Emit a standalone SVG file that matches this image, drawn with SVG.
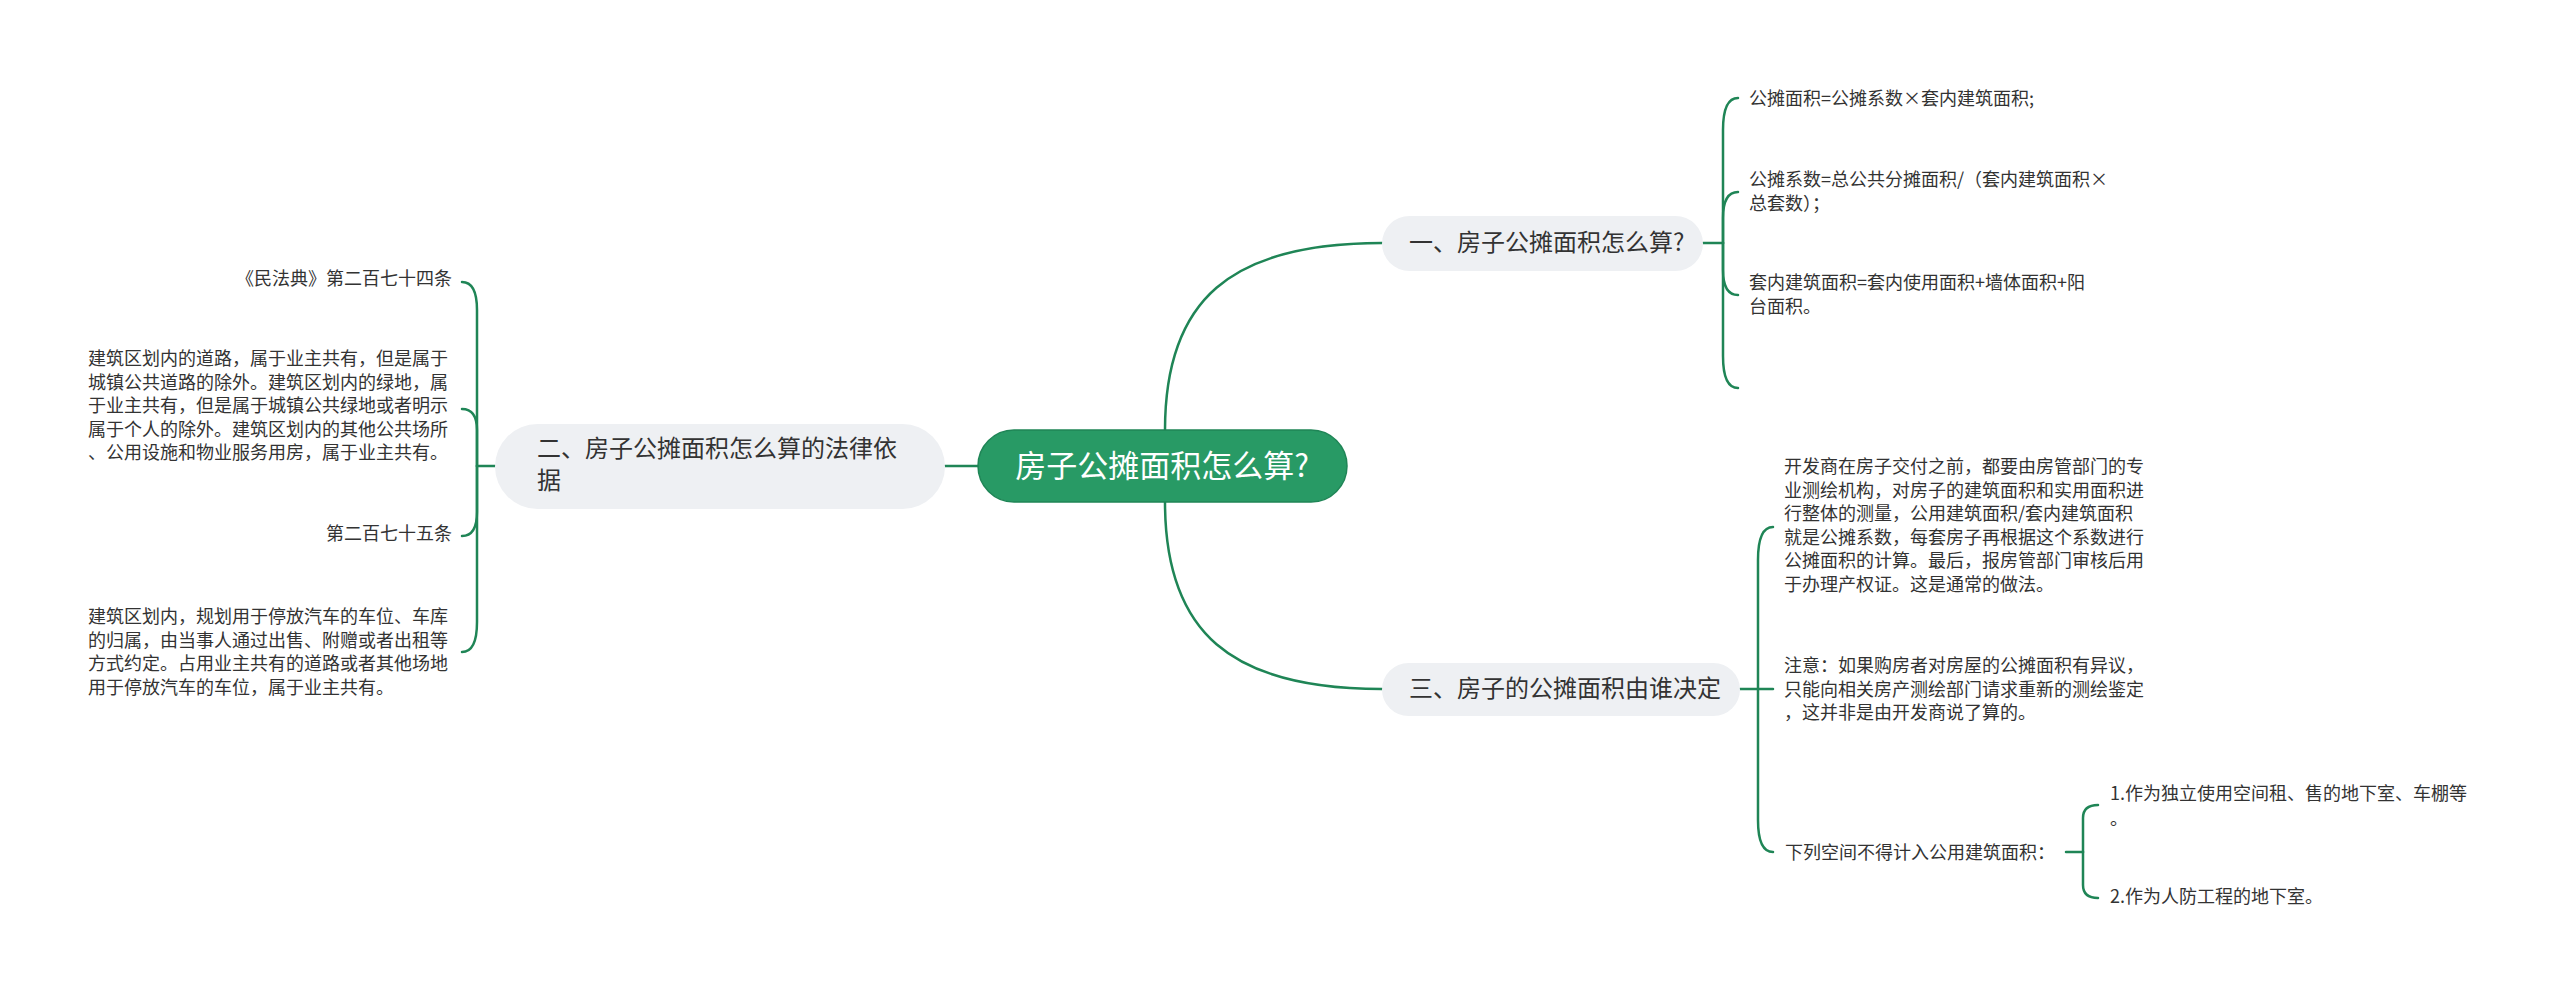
<svg xmlns="http://www.w3.org/2000/svg" width="2560" height="997" viewBox="0 0 2560 997">
<style>
.bg{fill:#ffffff}
.ln{fill:none;stroke:#1f8556;stroke-width:2.5;stroke-linecap:round}
.root{fill:#289a65;stroke:#1f8556;stroke-width:1.5}
.sub{fill:#eef0f3}
.t{font-family:"Noto Sans CJK SC","Noto Sans",sans-serif;fill:#333333}
.rt{font-family:"Noto Sans CJK SC","Noto Sans",sans-serif;fill:#ffffff;font-size:31px}
.st{font-size:24px}
.lf{font-size:18px}
</style>
<rect class="bg" x="0" y="0" width="2560" height="997"/>
<g id="connectors">
  <path class="ln" d="M1165,430 C1165,300 1230,243 1382,243"/>
  <path class="ln" d="M1165,502 C1165,632 1230,689 1382,689"/>
  <path class="ln" d="M978,466 H945"/>
  <!-- left brace -->
  <path class="ln" d="M495,466 H477"/>
  <path class="ln" d="M477,466 V310 Q477,282 462,282"/>
  <path class="ln" d="M477,466 V430 Q477,409 462,409"/>
  <path class="ln" d="M477,466 V512 Q477,536 462,536"/>
  <path class="ln" d="M477,466 V622 Q477,652 462,652"/>
  <!-- node 1 brace -->
  <path class="ln" d="M1703,243 H1723"/>
  <path class="ln" d="M1723,243 V130 Q1723,98 1738,98"/>
  <path class="ln" d="M1723,243 V218 Q1723,192 1738,192"/>
  <path class="ln" d="M1723,243 V270 Q1723,295 1738,295"/>
  <path class="ln" d="M1723,243 V356 Q1723,388 1738,388"/>
  <!-- node 3 brace -->
  <path class="ln" d="M1740,689 H1773"/>
  <path class="ln" d="M1758,689 V560 Q1758,527 1773,527"/>
  <path class="ln" d="M1758,689 V820 Q1758,852 1773,852"/>
  <!-- sub brace -->
  <path class="ln" d="M2066,852 H2083"/>
  <path class="ln" d="M2083,852 V818 Q2083,805 2098,805"/>
  <path class="ln" d="M2083,852 V885 Q2083,898 2098,898"/>
</g>
<g id="root">
  <rect class="root" x="978" y="430" width="369" height="72" rx="36"/>
  <text class="rt" x="1162" y="477" text-anchor="middle">房子公摊面积怎么算?</text>
</g>
<g id="node1">
  <rect class="sub" x="1382" y="216" width="321" height="55" rx="27.5"/>
  <text class="t st" x="1409" y="251">一、房子公摊面积怎么算?</text>
</g>
<g id="node2">
  <rect class="sub" x="495" y="424" width="450" height="85" rx="42.5"/>
  <text class="t st"><tspan x="537" y="457">二、房子公摊面积怎么算的法律依</tspan><tspan x="537" y="489">据</tspan></text>
</g>
<g id="node3">
  <rect class="sub" x="1382" y="663" width="358" height="53" rx="26.5"/>
  <text class="t st" x="1409" y="697">三、房子的公摊面积由谁决定</text>
</g>
<g id="leaf-l1">
  <text class="t lf" x="452" y="285" text-anchor="end">《民法典》第二百七十四条</text>
</g>
<g id="leaf-l2">
  <text class="t lf"><tspan x="88" y="365">建筑区划内的道路，属于业主共有，但是属于</tspan><tspan x="88" y="388.5">城镇公共道路的除外。建筑区划内的绿地，属</tspan><tspan x="88" y="412">于业主共有，但是属于城镇公共绿地或者明示</tspan><tspan x="88" y="435.5">属于个人的除外。建筑区划内的其他公共场所</tspan><tspan x="88" y="459">、公用设施和物业服务用房，属于业主共有。</tspan></text>
</g>
<g id="leaf-l3">
  <text class="t lf" x="452" y="540" text-anchor="end">第二百七十五条</text>
</g>
<g id="leaf-l4">
  <text class="t lf"><tspan x="88" y="623">建筑区划内，规划用于停放汽车的车位、车库</tspan><tspan x="88" y="646.5">的归属，由当事人通过出售、附赠或者出租等</tspan><tspan x="88" y="670">方式约定。占用业主共有的道路或者其他场地</tspan><tspan x="88" y="693.5">用于停放汽车的车位，属于业主共有。</tspan></text>
</g>
<g id="leaf-r1">
  <text class="t lf" x="1749" y="105">公摊面积=公摊系数×套内建筑面积;</text>
</g>
<g id="leaf-r2">
  <text class="t lf"><tspan x="1749" y="186">公摊系数=总公共分摊面积/（套内建筑面积×</tspan><tspan x="1749" y="209.5">总套数）；</tspan></text>
</g>
<g id="leaf-r3">
  <text class="t lf"><tspan x="1749" y="289">套内建筑面积=套内使用面积+墙体面积+阳</tspan><tspan x="1749" y="312.5">台面积。</tspan></text>
</g>
<g id="leaf-r5">
  <text class="t lf"><tspan x="1784" y="473">开发商在房子交付之前，都要由房管部门的专</tspan><tspan x="1784" y="496.5">业测绘机构，对房子的建筑面积和实用面积进</tspan><tspan x="1784" y="520">行整体的测量，公用建筑面积/套内建筑面积</tspan><tspan x="1784" y="543.5">就是公摊系数，每套房子再根据这个系数进行</tspan><tspan x="1784" y="567">公摊面积的计算。最后，报房管部门审核后用</tspan><tspan x="1784" y="590.5">于办理产权证。这是通常的做法。</tspan></text>
</g>
<g id="leaf-r6">
  <text class="t lf"><tspan x="1784" y="672">注意：如果购房者对房屋的公摊面积有异议，</tspan><tspan x="1784" y="695.5">只能向相关房产测绘部门请求重新的测绘鉴定</tspan><tspan x="1784" y="719">，这并非是由开发商说了算的。</tspan></text>
</g>
<g id="leaf-r7">
  <text class="t lf" x="1785" y="859">下列空间不得计入公用建筑面积：</text>
</g>
<g id="leaf-r8">
  <text class="t lf"><tspan x="2110" y="800">1.作为独立使用空间租、售的地下室、车棚等</tspan><tspan x="2110" y="825">。</tspan></text>
</g>
<g id="leaf-r9">
  <text class="t lf" x="2110" y="903">2.作为人防工程的地下室。</text>
</g>
</svg>
